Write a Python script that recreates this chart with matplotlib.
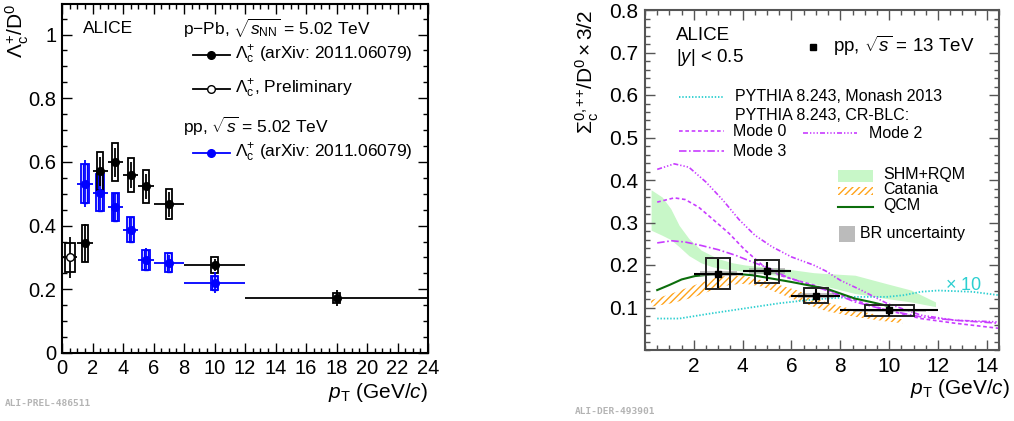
import numpy as np
import matplotlib
matplotlib.use('Agg')
import matplotlib.pyplot as plt
from matplotlib.patches import Rectangle
from matplotlib.ticker import MultipleLocator, FixedLocator, FuncFormatter

plt.rcParams['font.family'] = ['Liberation Sans', 'DejaVu Sans']
plt.rcParams['mathtext.fontset'] = 'custom'
plt.rcParams['mathtext.rm'] = 'Liberation Sans'
plt.rcParams['mathtext.it'] = 'Liberation Sans:italic'
plt.rcParams['mathtext.bf'] = 'Liberation Sans:bold'
plt.rcParams['hatch.linewidth'] = 1.0

# ---------------- Left panel data: Lambda_c / D0 ----------------
ppb_pt = [1.5, 2.5, 3.5, 4.5, 5.5, 7.0, 10.0, 18.0]
ppb_xerr = [0.5, 0.5, 0.5, 0.5, 0.5, 1.0, 2.0, 6.0]
ppb_val = [0.345, 0.571, 0.599, 0.559, 0.523, 0.467, 0.276, 0.173]
ppb_stat = [0.060, 0.045, 0.045, 0.040, 0.040, 0.040, 0.020, 0.026]
ppb_syst = [0.058, 0.059, 0.060, 0.054, 0.053, 0.047, 0.025, 0.016]

prel_pt = [0.5]
prel_xerr = [0.5]
prel_val = [0.300]
prel_stat = [0.063]
prel_syst = [0.047]

pp5_pt = [1.5, 2.5, 3.5, 4.5, 5.5, 7.0, 10.0]
pp5_xerr = [0.5, 0.5, 0.5, 0.5, 0.5, 1.0, 2.0]
pp5_val = [0.532, 0.504, 0.458, 0.387, 0.293, 0.284, 0.220]
pp5_stat = [0.075, 0.055, 0.045, 0.040, 0.036, 0.025, 0.033]
pp5_syst = [0.062, 0.059, 0.045, 0.039, 0.031, 0.030, 0.022]

left_xticks = [0, 2, 4, 6, 8, 10, 12, 14, 16, 18, 20, 22, 24]
left_yticks = [0, 0.2, 0.4, 0.6, 0.8, 1.0]

# ---------------- Right panel data: Sigma_c / D0 ----------------
pp13_pt = [3.0, 5.0, 7.0, 10.0]
pp13_xerr = [1.0, 1.0, 1.0, 2.0]
pp13_val = [0.180, 0.185, 0.128, 0.093]
pp13_stat = [0.035, 0.023, 0.015, 0.013]
pp13_syst = [0.037, 0.027, 0.017, 0.012]
pp13_syst_w = [0.5, 0.5, 0.5, 1.0]
pp13_br = [0.006, 0.007, 0.005, 0.004]

monash_x = [0.5, 1.4, 2.7, 4.1, 5.5, 6.6, 7.4, 8.6, 9.9, 10.6, 11.3, 12.0, 13.4, 14.5]
monash_y = [0.074, 0.074, 0.086, 0.098, 0.110, 0.117, 0.121, 0.125, 0.125, 0.129, 0.137, 0.140, 0.137, 0.129]

mode0_x = [0.5, 1.2, 1.65, 2.2, 2.75, 3.45, 4.1, 4.8, 5.5, 6.2, 6.9, 7.4, 8.6, 9.9, 11.3, 12.7, 14.5]
mode0_y = [0.348, 0.358, 0.354, 0.336, 0.309, 0.274, 0.235, 0.200, 0.176, 0.164, 0.153, 0.143, 0.117, 0.094, 0.074, 0.063, 0.051]

mode2_x = [0.5, 1.2, 1.8, 2.5, 3.2, 3.85, 4.5, 5.2, 6.0, 6.9, 7.4, 8.0, 8.85, 9.9, 11.3, 12.7, 14.5]
mode2_y = [0.425, 0.438, 0.430, 0.395, 0.352, 0.307, 0.270, 0.243, 0.219, 0.200, 0.186, 0.164, 0.141, 0.110, 0.082, 0.070, 0.066]

mode3_x = [0.5, 1.1, 1.65, 2.3, 3.0, 3.7, 4.4, 5.1, 5.8, 6.6, 7.4, 8.6, 9.9, 11.3, 12.7, 14.5]
mode3_y = [0.252, 0.257, 0.254, 0.246, 0.236, 0.223, 0.207, 0.192, 0.172, 0.156, 0.141, 0.113, 0.094, 0.078, 0.070, 0.063]

qcm_x = [0.5, 1.0, 1.5, 2.05, 2.75, 3.55, 4.4, 5.2, 6.0, 6.9, 7.4, 8.6, 9.25, 10.0]
qcm_y = [0.141, 0.153, 0.166, 0.174, 0.178, 0.180, 0.176, 0.168, 0.160, 0.150, 0.145, 0.121, 0.113, 0.103]

catania_x = [0.25, 1.1, 2.05, 2.75, 3.45, 4.1, 4.8, 5.5, 6.2, 6.9, 7.4, 8.6, 9.9, 10.55]
catania_lo = [0.102, 0.110, 0.125, 0.141, 0.153, 0.156, 0.149, 0.133, 0.117, 0.102, 0.092, 0.078, 0.067, 0.063]
catania_hi = [0.117, 0.133, 0.153, 0.168, 0.176, 0.174, 0.164, 0.153, 0.141, 0.125, 0.113, 0.094, 0.078, 0.072]

shm_x = [0.25, 0.7, 1.05, 1.4, 1.8, 2.3, 2.75, 3.0, 3.6, 4.1, 5.5, 6.0, 6.9, 7.4, 8.6, 9.9, 10.9, 11.9]
shm_hi = [0.377, 0.360, 0.333, 0.293, 0.262, 0.235, 0.222, 0.215, 0.205, 0.200, 0.192, 0.189, 0.182, 0.180, 0.176, 0.156, 0.141, 0.113]
shm_lo = [0.282, 0.270, 0.260, 0.243, 0.222, 0.205, 0.196, 0.193, 0.188, 0.185, 0.175, 0.168, 0.156, 0.150, 0.133, 0.121, 0.113, 0.102]

right_xticks = [2, 4, 6, 8, 10, 12, 14]
right_yticks = [0.1, 0.2, 0.3, 0.4, 0.5, 0.6, 0.7, 0.8]

# colours
BLUE = '#0000ff'
MAG = '#c83cff'
CYAN = '#2ccfd0'
SHMC = '#c8f7c8'
CATC = '#ffa31a'
QCMC = '#0c6e0c'

LS_M0 = (0, (2.2, 1.6))
LS_M2 = (0, (3, 1.2, 0.8, 1.2, 0.8, 1.2, 0.8, 1.2))
LS_M3 = (0, (4.5, 1.5, 1.0, 1.5))
LS_MON = (0, (0.8, 1.0))

fig = plt.figure(figsize=(10.14, 4.21), dpi=100)
axL = fig.add_axes([62/1014, (421-353)/421, 366/1014, 349/421])
axR = fig.add_axes([645/1014, (421-350)/421, 354/1014, 340/421])

def style_axes(ax, lw, color):
    for s in ax.spines.values():
        s.set_linewidth(lw)
        s.set_color(color)
    ax.tick_params(which='both', direction='in', top=True, right=True,
                   color=color, width=1.0)
    ax.tick_params(which='major', length=7.2)
    ax.tick_params(which='minor', length=3.6)

fmt = FuncFormatter(lambda v, p: '%g' % v)

# ---------------- Left panel ----------------
axL.set_xlim(0, 24)
axL.set_ylim(0, 1.096)
style_axes(axL, 1.5, 'black')
axL.xaxis.set_major_locator(FixedLocator(left_xticks))
axL.xaxis.set_minor_locator(MultipleLocator(0.5))
axL.yaxis.set_major_locator(FixedLocator(left_yticks))
axL.yaxis.set_minor_locator(MultipleLocator(0.05))
axL.xaxis.set_major_formatter(fmt)
axL.yaxis.set_major_formatter(fmt)
axL.tick_params(labelsize=14.5, pad=4)

def draw_set(ax, xs, xe, ys, st, sy, color, mfc, box_hw, double=False, ms=5.5, lw=1.3):
    for x, w, y, s, b in zip(xs, xe, ys, st, sy):
        ax.add_patch(Rectangle((x - box_hw, y - b), 2*box_hw, 2*b, fill=False,
                               ec=color, lw=lw, zorder=3))
        if double:
            ax.add_patch(Rectangle((x - box_hw*0.55, y - b), 2*box_hw*0.55, 2*b,
                                   fill=False, ec=color, lw=1.0, zorder=3))
    ax.errorbar(xs, ys, xerr=xe, yerr=st, fmt='o', color=color, mfc=mfc,
                mec=color, ms=ms, elinewidth=lw, capsize=0, zorder=4)

draw_set(axL, pp5_pt, pp5_xerr, pp5_val, pp5_stat, pp5_syst, BLUE, BLUE, 0.24, double=True)
draw_set(axL, ppb_pt, ppb_xerr, ppb_val, ppb_stat, ppb_syst, 'black', 'black', 0.2)
draw_set(axL, prel_pt, prel_xerr, prel_val, prel_stat, prel_syst, 'black', 'white', 0.33)

axL.set_ylabel(r'$\Lambda_{\rm c}^{+}/{\rm D}^{0}$', fontsize=15, loc='top')
axL.yaxis.set_label_coords(-0.085, 1.0)
axL.set_xlabel(r'$p_{\rm T}$ (GeV/$c$)', fontsize=15, loc='right')
axL.xaxis.set_label_coords(1.0, -0.08)

tL = axL.transAxes
axL.text(0.057, 0.931, 'ALICE', transform=tL, fontsize=12.5, va='center')
axL.text(0.331, 0.931, r'p$-$Pb, $\sqrt{s_{\rm NN}}$ = 5.02 TeV', transform=tL, fontsize=12.5, va='center')
axL.plot([0.358, 0.459], [0.854, 0.854], transform=tL, color='black', lw=1.3, clip_on=False)
axL.plot([0.408], [0.854], 'o', transform=tL, color='black', ms=5.5, clip_on=False)
axL.text(0.473, 0.854, r'$\Lambda_{\rm c}^{+}$ (arXiv: 2011.06079)', transform=tL, fontsize=12.5, va='center')
axL.plot([0.358, 0.459], [0.756, 0.756], transform=tL, color='black', lw=1.3, clip_on=False)
axL.plot([0.408], [0.756], 'o', transform=tL, mfc='white', mec='black', ms=5.5, clip_on=False)
axL.text(0.473, 0.756, r'$\Lambda_{\rm c}^{+}$, Preliminary', transform=tL, fontsize=12.5, va='center')
axL.text(0.331, 0.650, r'pp, $\sqrt{s}$ = 5.02 TeV', transform=tL, fontsize=12.5, va='center')
axL.plot([0.358, 0.459], [0.573, 0.573], transform=tL, color=BLUE, lw=1.3, clip_on=False)
axL.plot([0.408], [0.573], 'o', transform=tL, color=BLUE, ms=5.5, clip_on=False)
axL.text(0.473, 0.573, r'$\Lambda_{\rm c}^{+}$ (arXiv: 2011.06079)', transform=tL, fontsize=12.5, va='center')

# ---------------- Right panel ----------------
GREY = '#555555'
axR.set_xlim(0, 14.5)
axR.set_ylim(0, 0.8)
style_axes(axR, 1.5, GREY)
axR.xaxis.set_major_locator(FixedLocator(right_xticks))
axR.xaxis.set_minor_locator(MultipleLocator(0.5))
axR.yaxis.set_major_locator(FixedLocator(right_yticks))
axR.yaxis.set_minor_locator(MultipleLocator(0.02))
axR.xaxis.set_major_formatter(fmt)
axR.yaxis.set_major_formatter(fmt)
axR.tick_params(labelsize=15, pad=5, labelcolor='black')

axR.fill_between(shm_x, shm_lo, shm_hi, color=SHMC, lw=0, zorder=1)
axR.fill_between(catania_x, catania_lo, catania_hi, facecolor='none', edgecolor=CATC,
                 hatch='/////', lw=0, zorder=1.5)
axR.plot(monash_x, monash_y, color=CYAN, lw=1.3, ls=LS_MON, zorder=2)
axR.plot(mode0_x, mode0_y, color=MAG, lw=1.2, ls=LS_M0, zorder=2)
axR.plot(mode2_x, mode2_y, color=MAG, lw=1.2, ls=LS_M2, zorder=2)
axR.plot(mode3_x, mode3_y, color=MAG, lw=1.2, ls=LS_M3, zorder=2)
axR.plot(qcm_x, qcm_y, color=QCMC, lw=1.5, zorder=2.5)

for x, w, y, b, br, sw in zip(pp13_pt, pp13_xerr, pp13_val, pp13_syst, pp13_br, pp13_syst_w):
    axR.add_patch(Rectangle((x - 0.75*w, y - br), 1.5*w, 2*br, color='#999999', alpha=0.6, lw=0, zorder=3))
    axR.add_patch(Rectangle((x - sw, y - b), 2*sw, 2*b, fill=False, ec='#222222', lw=1.4, zorder=4))
axR.errorbar(pp13_pt, pp13_val, xerr=pp13_xerr, yerr=pp13_stat, fmt='s', color='black',
             ms=4, elinewidth=1.5, capsize=0, zorder=5)

axR.set_ylabel(r'$\Sigma_{\rm c}^{0,{+}{+}}/{\rm D}^{0}\times 3/2$', fontsize=15, loc='top')
axR.yaxis.set_label_coords(-0.125, 1.0)
axR.set_xlabel(r'$p_{\rm T}$ (GeV/$c$)', fontsize=15, loc='right')
axR.xaxis.set_label_coords(1.031, -0.078)

tR = axR.transAxes
axR.text(0.0876, 0.924, 'ALICE', transform=tR, fontsize=13.5, va='center')
axR.text(0.0876, 0.859, r'$|y|$ < 0.5', transform=tR, fontsize=13.5, va='center')
axR.plot([0.474], [0.892], 's', transform=tR, color='black', ms=4, clip_on=False)
axR.text(0.531, 0.894, r'pp, $\sqrt{s}$ = 13 TeV', transform=tR, fontsize=13.5, va='center')

axR.plot([0.096, 0.223], [0.745, 0.745], transform=tR, color=CYAN, lw=1.3, ls=LS_MON)
axR.text(0.254, 0.747, 'PYTHIA 8.243, Monash 2013', transform=tR, fontsize=11.5, va='center')
axR.text(0.254, 0.691, 'PYTHIA 8.243, CR-BLC:', transform=tR, fontsize=11.5, va='center')
axR.plot([0.096, 0.223], [0.644, 0.644], transform=tR, color=MAG, lw=1.2, ls=LS_M0)
axR.text(0.249, 0.644, 'Mode 0', transform=tR, fontsize=11.5, va='center')
axR.plot([0.096, 0.223], [0.585, 0.585], transform=tR, color=MAG, lw=1.2, ls=LS_M3)
axR.text(0.249, 0.585, 'Mode 3', transform=tR, fontsize=11.5, va='center')
axR.plot([0.446, 0.599], [0.638, 0.638], transform=tR, color=MAG, lw=1.2, ls=LS_M2)
axR.text(0.633, 0.638, 'Mode 2', transform=tR, fontsize=11.5, va='center')

axR.add_patch(Rectangle((0.545, 0.494), 0.099, 0.035, transform=tR, color=SHMC, lw=0))
axR.text(0.672, 0.515, 'SHM+RQM', transform=tR, fontsize=11.5, va='center')
axR.add_patch(Rectangle((0.545, 0.456), 0.099, 0.023, transform=tR, facecolor='none',
                        edgecolor=CATC, hatch='/////', lw=0))
axR.text(0.672, 0.471, 'Catania', transform=tR, fontsize=11.5, va='center')
axR.plot([0.545, 0.644], [0.421, 0.421], transform=tR, color=QCMC, lw=1.5)
axR.text(0.672, 0.426, 'QCM', transform=tR, fontsize=11.5, va='center')
axR.add_patch(Rectangle((0.548, 0.319), 0.045, 0.046, transform=tR, color='#bbbbbb', lw=0))
axR.text(0.607, 0.344, 'BR uncertainty', transform=tR, fontsize=11.5, va='center')
axR.text(0.847, 0.191, r'$\times$ 10', transform=tR, fontsize=13, va='center', color=CYAN)

# watermarks
fig.text(5/1014, 1 - 404/421, 'ALI-PREL-486511', family='DejaVu Sans Mono', weight='bold',
         fontsize=6.8, color='#b4b4b4', va='center')
fig.text(575/1014, 1 - 411/421, 'ALI-DER-493901', family='DejaVu Sans Mono', weight='bold',
         fontsize=6.8, color='#b4b4b4', va='center')

fig.savefig('out.png', dpi=100)
